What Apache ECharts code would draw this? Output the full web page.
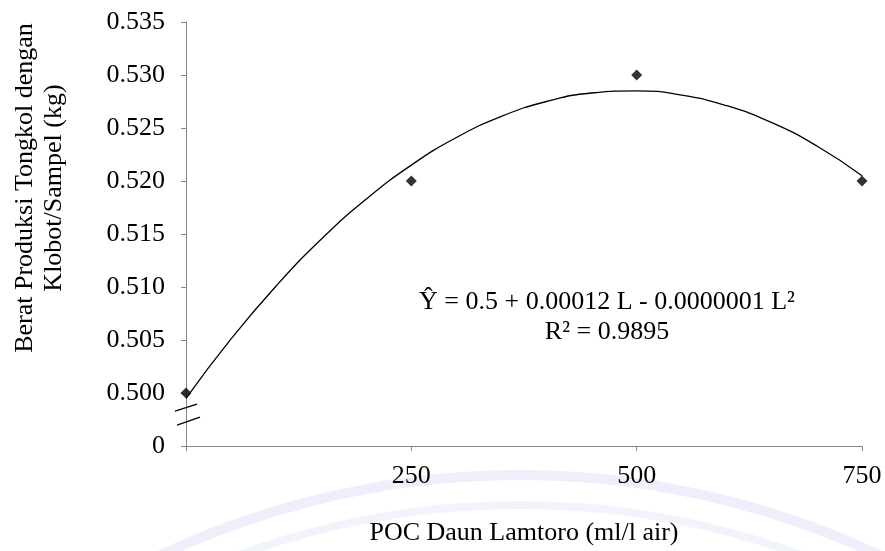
<!DOCTYPE html>
<html>
<head>
<meta charset="utf-8">
<script src="https://cdn.jsdelivr.net/npm/echarts@6/dist/echarts.min.js"></script>
<style>
  html, body { margin: 0; padding: 0; background: #fff; }
  #chart { width: 885px; height: 551px; }
</style>
</head>
<body>
<div id="chart"></div>
<script>
// dosis POC (ml/l air) dan berat tongkol (kg)
const doses = [0, 250, 500, 750];
const weights = [0.500, 0.520, 0.530, 0.520];

// titik-titik garis tren
const trendX = [0, 50, 100, 150, 200, 250, 300, 350, 400, 450, 500, 550, 600, 650, 700, 750];
const trendY = [0.4995, 0.5051, 0.5101, 0.5145, 0.5183, 0.5215, 0.5241, 0.5261,
                0.5275, 0.5283, 0.5285, 0.5281, 0.5271, 0.5255, 0.5233, 0.5205];

const xTicks = [250, 500, 750];
const yLabelZero = '0';

const font = '"Liberation Serif", "DejaVu Serif", serif';
const axisColor = '#868686';

const chart = echarts.init(document.getElementById('chart'));

const option = {
  backgroundColor: '#fff',
  animation: false,
  grid: { left: 186, right: 23, top: 22, bottom: 92 },
  xAxis: {
    type: 'value',
    min: 0,
    max: 750,
    interval: 250,
    name: 'POC Daun Lamtoro (ml/l air)',
    nameLocation: 'middle',
    nameGap: 74,
    nameTextStyle: { fontFamily: font, fontSize: 26, color: '#000' },
    axisLine: { lineStyle: { color: axisColor, width: 1 } },
    axisTick: { show: true, length: 5, lineStyle: { color: axisColor } },
    splitLine: { show: false },
    axisLabel: {
      margin: 17,
      fontFamily: font,
      fontSize: 26,
      color: '#000',
      formatter: v => (xTicks.indexOf(v) >= 0 ? String(v) : '')
    }
  },
  yAxis: {
    type: 'value',
    min: 0.495,
    max: 0.535,
    interval: 0.005,
    axisLine: { show: true, lineStyle: { color: axisColor, width: 1 } },
    axisTick: { show: true, length: 5, lineStyle: { color: axisColor } },
    splitLine: { show: false },
    axisLabel: {
      margin: 21,
      fontFamily: font,
      fontSize: 26,
      color: '#000',
      formatter: v => (v < 0.4975 ? yLabelZero : v.toFixed(3))
    }
  },
  series: [
    {
      type: 'line',
      data: trendX.map((x, i) => [x, trendY[i]]),
      smooth: true,
      showSymbol: false,
      lineStyle: { color: '#000', width: 1.3 },
      z: 2
    },
    {
      type: 'scatter',
      data: doses.map((d, i) => [d, weights[i]]),
      symbol: 'diamond',
      symbolSize: 11,
      itemStyle: { color: '#000' },
      z: 3
    }
  ]
};

chart.setOption(option);

// tanda patah sumbu y dan teks
const axisPt = chart.convertToPixel({ gridIndex: 0 }, [0, 0.498]);
const bx = axisPt[0], by = axisPt[1];

chart.setOption({
  graphic: [
    // watermark samar
    {
      type: 'arc', silent: true, z: -10,
      shape: { cx: 520, cy: 1320, r: 845, startAngle: -Math.PI / 2 - 0.5, endAngle: -Math.PI / 2 + 0.5 },
      style: { stroke: 'rgba(205,210,240,0.35)', lineWidth: 10, fill: null }
    },
    {
      type: 'arc', silent: true, z: -10,
      shape: { cx: 520, cy: 1320, r: 815, startAngle: -Math.PI / 2 - 0.5, endAngle: -Math.PI / 2 + 0.5 },
      style: { stroke: 'rgba(205,210,240,0.25)', lineWidth: 8, fill: null }
    },
    {
      type: 'line', z: 10,
      shape: { x1: bx - 11, y1: by - 3, x2: bx + 11, y2: by - 10 },
      style: { stroke: '#000', lineWidth: 1.3 }
    },
    {
      type: 'line', z: 10,
      shape: { x1: bx - 9, y1: by + 11, x2: bx + 14, y2: by + 3 },
      style: { stroke: '#000', lineWidth: 1.3 }
    },
    {
      type: 'text',
      x: 40, y: 188,
      rotation: Math.PI / 2,
      style: {
        text: 'Berat Produksi Tongkol dengan\nKlobot/Sampel (kg)',
        font: '26px ' + font,
        fill: '#000',
        align: 'center',
        verticalAlign: 'middle',
        lineHeight: 29
      }
    },
    {
      type: 'text',
      x: 607, y: 317,
      style: {
        text: 'Ŷ = 0.5 + 0.00012 L - 0.0000001 L²\nR² = 0.9895',
        font: '26px ' + font,
        fill: '#000',
        align: 'center',
        verticalAlign: 'middle',
        lineHeight: 30
      }
    }
  ]
});

window.addEventListener('resize', () => chart.resize());
</script>
</body>
</html>
